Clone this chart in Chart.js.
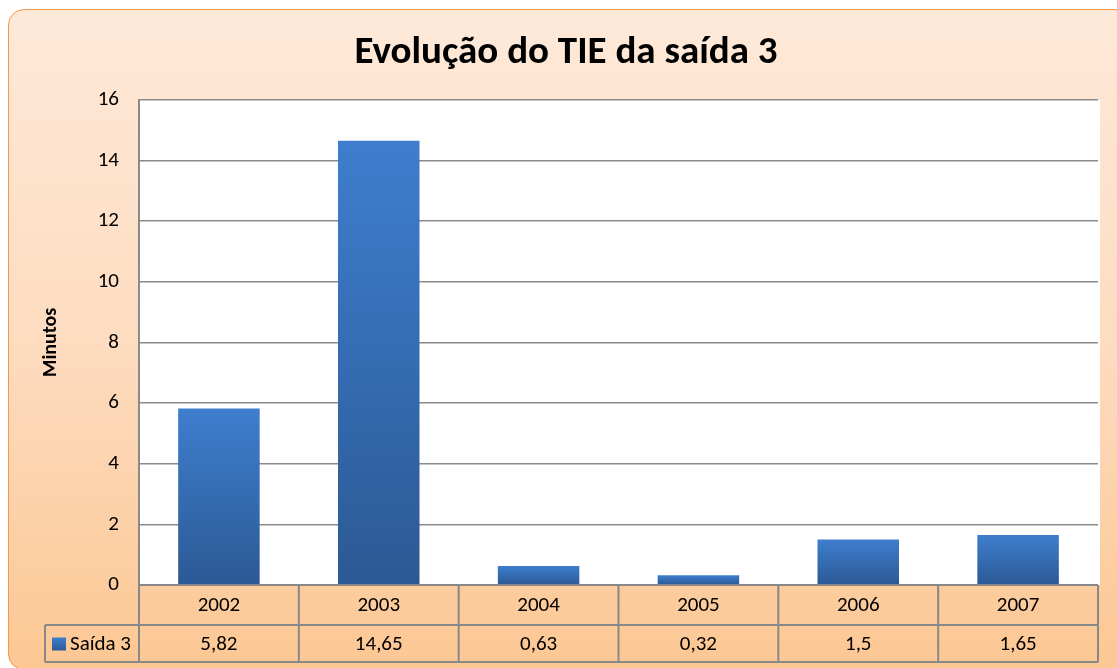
<!DOCTYPE html>
<html>
<head>
<meta charset="utf-8">
<script src="https://cdn.jsdelivr.net/npm/chart.js@4"></script>
<style>
  html, body { margin: 0; padding: 0; background: #fff; overflow: hidden; }
  #frame {
    position: absolute; left: 8px; top: 9px; width: 1122px; height: 661px;
    box-sizing: border-box; border: 1.5px solid #F79646; border-radius: 16px;
    background: linear-gradient(to bottom, #FEE9D9 0%, #FDDCC0 50%, #FCC793 100%);
  }
  #chart { position: absolute; left: 0; top: 0; }
</style>
</head>
<body>
<div id="frame"></div>
<canvas id="chart" width="1117" height="668"></canvas>
<script>
// dados do gráfico
const anos = ['2002', '2003', '2004', '2005', '2006', '2007'];
const saida3 = [5.82, 14.65, 0.63, 0.32, 1.5, 1.65];
const nomeSerie = 'Saída 3';
const titulo = 'Evolução do TIE da saída 3';
const tituloEixo = 'Minutos';
const eixoMin = 0, eixoMax = 16, eixoPasso = 2;

const fonte = 'Carlito, Lato, "Open Sans", sans-serif';

function formatar(v) {
    return String(v).replace('.', ',');
}

function gradienteBarra(ctx, top, base) {
    const g = ctx.createLinearGradient(0, top, 0, base);
    g.addColorStop(0, '#3E7ECE');
    g.addColorStop(1, '#2C5995');
    return g;
}

// fundo branco da área de plotagem
const fundoPlot = {
    id: 'fundoPlot',
    beforeDraw(chart) {
        const a = chart.chartArea;
        const ctx = chart.ctx;
        ctx.save();
        ctx.fillStyle = '#ffffff';
        ctx.fillRect(a.left, a.top, a.right - a.left + 2, a.bottom - a.top);
        ctx.restore();
    }
};

// tabela de dados abaixo do gráfico
const tabelaDados = {
    id: 'tabelaDados',
    afterDraw(chart) {
        const ctx = chart.ctx;
        const a = chart.chartArea;
        const x = chart.scales.x;
        const n = anos.length;
        const y0 = a.bottom, y1 = y0 + 40, y2 = y1 + 37;
        const legLeft = 45;

        const bordas = [];
        for (let i = 0; i <= n; i++) bordas.push(x.getPixelForValue(i - 0.5));

        ctx.save();
        ctx.strokeStyle = '#888888';
        ctx.lineWidth = 2;
        ctx.beginPath();
        ctx.moveTo(bordas[0], y0); ctx.lineTo(bordas[n], y0);
        ctx.moveTo(legLeft, y1); ctx.lineTo(bordas[n], y1);
        ctx.moveTo(legLeft, y2); ctx.lineTo(bordas[n], y2);
        ctx.moveTo(legLeft, y1); ctx.lineTo(legLeft, y2);
        bordas.forEach(b => { ctx.moveTo(b, y0); ctx.lineTo(b, y2); });
        ctx.stroke();

        ctx.fillStyle = '#000';
        ctx.font = '21px ' + fonte;
        ctx.textAlign = 'center';
        ctx.textBaseline = 'middle';
        for (let i = 0; i < n; i++) {
            const cx = x.getPixelForValue(i);
            ctx.fillText(anos[i], cx, (y0 + y1) / 2 + 1);
            ctx.fillText(formatar(saida3[i]), cx, (y1 + y2) / 2 + 1);
        }

        // legenda
        const my = (y1 + y2) / 2;
        ctx.fillStyle = gradienteBarra(ctx, my - 6, my + 7);
        ctx.fillRect(52, my - 6, 14, 13);
        ctx.fillStyle = '#000';
        ctx.textAlign = 'left';
        ctx.fillText(nomeSerie, 70, my + 1);
        ctx.restore();
    }
};

new Chart(document.getElementById('chart'), {
    type: 'bar',
    data: {
        labels: anos,
        datasets: [{
            label: nomeSerie,
            data: saida3,
            backgroundColor: function(c) {
                const chart = c.chart;
                const y = chart.scales.y;
                if (!chart.chartArea || !y || c.raw === undefined) return '#3A72BE';
                return gradienteBarra(chart.ctx, y.getPixelForValue(c.raw), y.getPixelForValue(0));
            },
            borderWidth: 0,
            categoryPercentage: 1,
            barPercentage: 0.51
        }]
    },
    options: {
        responsive: false,
        animation: false,
        layout: { padding: { left: 34, right: 19, top: 0, bottom: 83 } },
        plugins: {
            legend: { display: false },
            tooltip: { enabled: false },
            title: {
                display: true,
                text: titulo,
                color: '#000',
                font: { family: fonte, size: 39, weight: 'bold' },
                padding: { top: 30, bottom: 23 }
            }
        },
        scales: {
            x: { display: false },
            y: {
                min: eixoMin,
                max: eixoMax,
                afterFit(scale) { scale.width = 105; },
                ticks: {
                    stepSize: eixoPasso,
                    color: '#000',
                    padding: 20,
                    font: { family: fonte, size: 21 }
                },
                grid: { color: '#8a8a8a', lineWidth: 1.5, drawTicks: false },
                border: { color: '#8a8a8a', width: 2 },
                title: {
                    display: true,
                    text: tituloEixo,
                    color: '#000',
                    font: { family: fonte, size: 20, weight: 'bold' },
                    padding: { top: 5, bottom: 0 }
                }
            }
        }
    },
    plugins: [fundoPlot, tabelaDados]
});
</script>
</body>
</html>
